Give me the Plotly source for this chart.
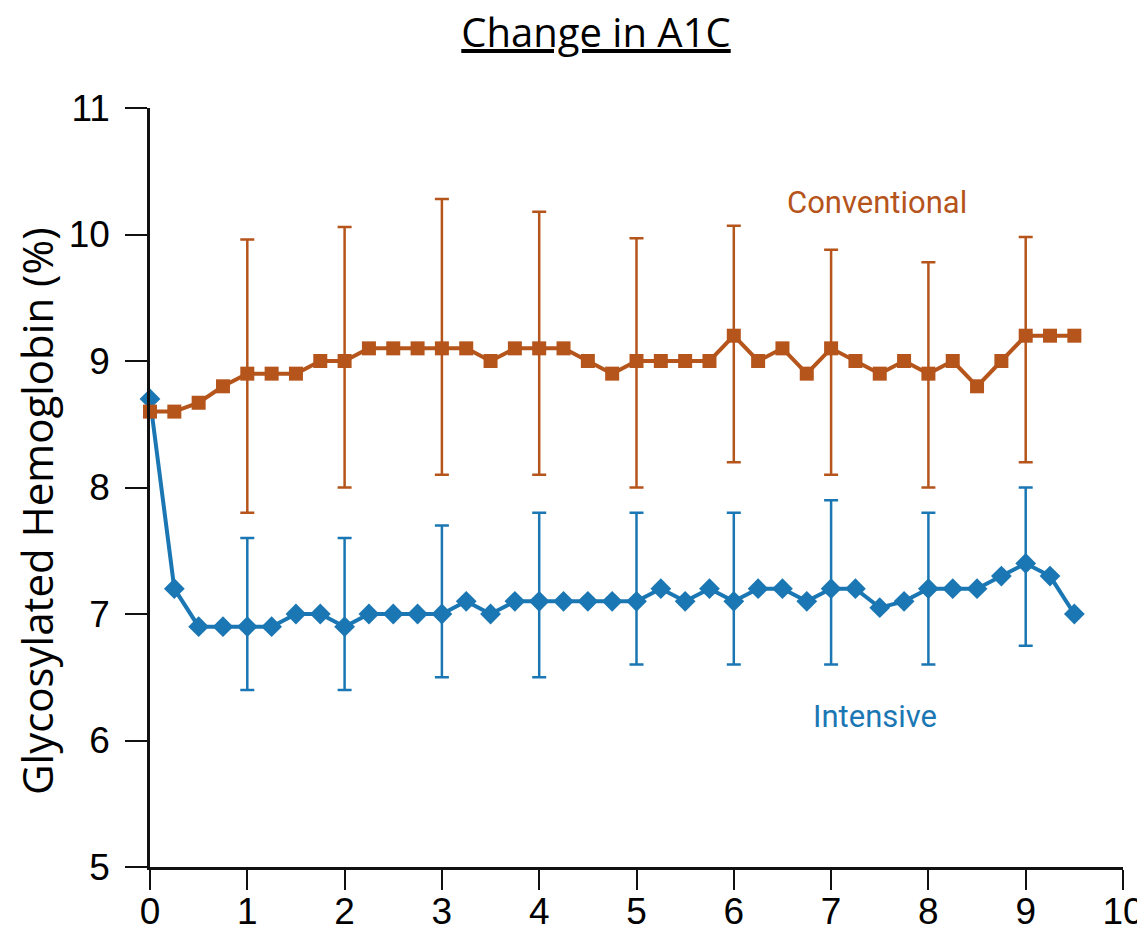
import plotly.graph_objects as go

years = [i * 0.25 for i in range(39)]
conventional = [8.6, 8.6, 8.67, 8.8, 8.9, 8.9, 8.9, 9.0, 9.0, 9.1, 9.1, 9.1, 9.1, 9.1, 9.0, 9.1,
                9.1, 9.1, 9.0, 8.9, 9.0, 9.0, 9.0, 9.0, 9.2, 9.0, 9.1, 8.9, 9.1, 9.0, 8.9, 9.0,
                8.9, 9.0, 8.8, 9.0, 9.2, 9.2, 9.2]
intensive = [8.7, 7.2, 6.9, 6.9, 6.9, 6.9, 7.0, 7.0, 6.9, 7.0, 7.0, 7.0, 7.0, 7.1, 7.0, 7.1,
             7.1, 7.1, 7.1, 7.1, 7.1, 7.2, 7.1, 7.2, 7.1, 7.2, 7.2, 7.1, 7.2, 7.2, 7.05, 7.1,
             7.2, 7.2, 7.2, 7.3, 7.4, 7.3, 7.0]

err_years = [1, 2, 3, 4, 5, 6, 7, 8, 9]
conv_upper = [9.96, 10.06, 10.28, 10.18, 9.97, 10.07, 9.88, 9.78, 9.98]
conv_lower = [7.8, 8.0, 8.1, 8.1, 8.0, 8.2, 8.1, 8.0, 8.2]
int_upper = [7.6, 7.6, 7.7, 7.8, 7.8, 7.8, 7.9, 7.8, 8.0]
int_lower = [6.4, 6.4, 6.5, 6.5, 6.6, 6.6, 6.6, 6.6, 6.75]

x_ticks = list(range(0, 11))
y_ticks = list(range(5, 12))

ORANGE = "#b5541b"
BLUE = "#1b77b3"

def at_years(series, yrs):
    return [series[years.index(float(y))] for y in yrs]

conv_mid = at_years(conventional, err_years)
int_mid = at_years(intensive, err_years)

fig = go.Figure()

fig.add_trace(go.Scatter(
    x=err_years, y=conv_mid, mode="markers", marker=dict(opacity=0, size=1),
    error_y=dict(type="data", symmetric=False,
                 array=[u - m for u, m in zip(conv_upper, conv_mid)],
                 arrayminus=[m - l for m, l in zip(conv_mid, conv_lower)],
                 color=ORANGE, thickness=2.5, width=7),
    showlegend=False, hoverinfo="skip", cliponaxis=False))
fig.add_trace(go.Scatter(
    x=err_years, y=int_mid, mode="markers", marker=dict(opacity=0, size=1),
    error_y=dict(type="data", symmetric=False,
                 array=[u - m for u, m in zip(int_upper, int_mid)],
                 arrayminus=[m - l for m, l in zip(int_mid, int_lower)],
                 color=BLUE, thickness=2.5, width=7),
    showlegend=False, hoverinfo="skip", cliponaxis=False))

fig.add_trace(go.Scatter(
    x=years, y=intensive, mode="lines+markers", name="Intensive",
    line=dict(color=BLUE, width=4),
    marker=dict(symbol="diamond", size=16, color=BLUE),
    showlegend=False, cliponaxis=False))
fig.add_trace(go.Scatter(
    x=years, y=conventional, mode="lines+markers", name="Conventional",
    line=dict(color=ORANGE, width=4),
    marker=dict(symbol="square", size=14, color=ORANGE),
    showlegend=False, cliponaxis=False))

fig.add_annotation(x=7.47, y=10.25, text="Conventional", showarrow=False,
                   font=dict(family="Roboto, sans-serif", size=31, color=ORANGE))
fig.add_annotation(x=7.45, y=6.19, text="Intensive", showarrow=False,
                   font=dict(family="Roboto, sans-serif", size=31, color=BLUE))

# y-axis title as rotated annotation
fig.add_annotation(xref="paper", yref="paper", x=(36 - 150) / 973, y=(867 - 511) / 759,
                   xanchor="center", yanchor="middle", textangle=-90, showarrow=False,
                   text="Glycosylated Hemoglobin (%)",
                   font=dict(family="Open Sans, sans-serif", size=42, color="black"))

# page body adds an 8px offset, so the figure is sized 1137x925
fig.update_layout(
    width=1137, height=925,
    margin=dict(l=142, r=22, t=100, b=66),
    paper_bgcolor="white", plot_bgcolor="white",
    title=dict(text="<u>Change in A1C</u>", xref="paper", x=(596 - 150) / 973, xanchor="center",
               y=1 - 25 / 925, yanchor="middle",
               font=dict(family="Open Sans, sans-serif", size=40, color="black")),
    xaxis=dict(range=[0, 10], tickmode="array", tickvals=x_ticks, ticktext=[str(v) for v in x_ticks],
               showgrid=False, zeroline=False, showline=True, linecolor="#111", linewidth=2.5,
               ticks="outside", ticklen=20, tickwidth=2, tickcolor="#111", automargin=False,
               ticklabelstandoff=-10,
               tickfont=dict(family="Liberation Sans, Arial, sans-serif", size=37, color="black")),
    yaxis=dict(range=[5, 11], tickmode="array", tickvals=y_ticks, ticktext=[str(v) for v in y_ticks],
               showgrid=False, zeroline=False, showline=True, linecolor="#111", linewidth=2.5,
               ticks="outside", ticklen=22, tickwidth=2, tickcolor="#111", automargin=False,
               ticklabelstandoff=8,
               tickfont=dict(family="Liberation Sans, Arial, sans-serif", size=37, color="black")),
)

fig.write_html("out.html")
